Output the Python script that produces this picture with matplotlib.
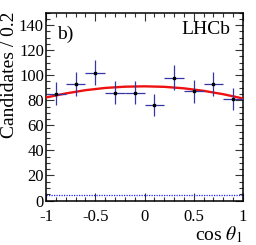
import numpy as np
import matplotlib
matplotlib.use("Agg")
import matplotlib.pyplot as plt
from matplotlib.ticker import MultipleLocator

# data
bin_centers = [-0.9, -0.7, -0.5, -0.3, -0.1, 0.1, 0.3, 0.5, 0.7, 0.9]
counts = [85, 93, 102, 86, 86, 76, 98, 87, 93, 81]
count_errors = [9.2, 9.6, 10.1, 9.3, 9.3, 8.7, 9.9, 9.3, 9.6, 9.0]
bin_half_width = 0.1

fit_x = [-1.0, -0.8, -0.6, -0.4, -0.2, 0.0, 0.2, 0.4, 0.6, 0.8, 1.0]
fit_y = [82.2, 85.4, 88.0, 89.8, 90.8, 91.1, 90.7, 89.5, 87.5, 84.8, 81.4]

bkg_x = [-1.0, 1.0]
bkg_y = [4.5, 4.5]

plt.rcParams['font.family'] = 'serif'
plt.rcParams['font.serif'] = ['Liberation Serif', 'DejaVu Serif']
plt.rcParams['mathtext.fontset'] = 'stix'
plt.rcParams['axes.unicode_minus'] = False

fig = plt.figure(figsize=(2.56, 2.45), dpi=100)
ax = fig.add_axes([46 / 256, 1 - 200.5 / 245, 197 / 256, 188 / 245])

ax.plot(bkg_x, bkg_y, color='#2020ff', linestyle=(0, (1, 1)), linewidth=0.9)
ax.plot(fit_x, fit_y, color='#ee1111', linewidth=1.7, zorder=3)
ax.errorbar(bin_centers, counts, xerr=bin_half_width, yerr=count_errors,
            fmt='s', color='black', markersize=2, ecolor='#3535a5',
            elinewidth=0.9, capsize=0, zorder=4)

ax.set_xlim(-1, 1)
ax.set_ylim(0, 150)
ax.set_xticks([-1, -0.5, 0, 0.5, 1])
ax.set_xticklabels(['-1', '-0.5', '0', '0.5', '1'])
ax.set_yticks([0, 20, 40, 60, 80, 100, 120, 140])
ax.xaxis.set_minor_locator(MultipleLocator(0.1))
ax.yaxis.set_minor_locator(MultipleLocator(5))
ax.tick_params(which='both', direction='in', top=True, right=True,
               labelsize=12, width=0.8, color='#333333')
ax.tick_params(which='major', length=6)
ax.tick_params(which='minor', length=3)
ax.tick_params(axis='x', pad=6)
ax.tick_params(axis='y', pad=1.5)
for s in ax.spines.values():
    s.set_linewidth(1.1)

ax.set_ylabel('Candidates / 0.2', fontsize=14)
ax.yaxis.set_label_coords(-0.14, 0.67)
ax.text(1.0, -0.213, r'cos $\theta_1$', transform=ax.transAxes,
        ha='right', va='baseline', fontsize=14)
ax.text(0.056, 0.93, 'b)', transform=ax.transAxes, ha='left', va='top',
        fontsize=14)
ax.text(0.934, 0.957, 'LHCb', transform=ax.transAxes, ha='right', va='top',
        fontsize=14)

fig.savefig('out.png', dpi=100)
